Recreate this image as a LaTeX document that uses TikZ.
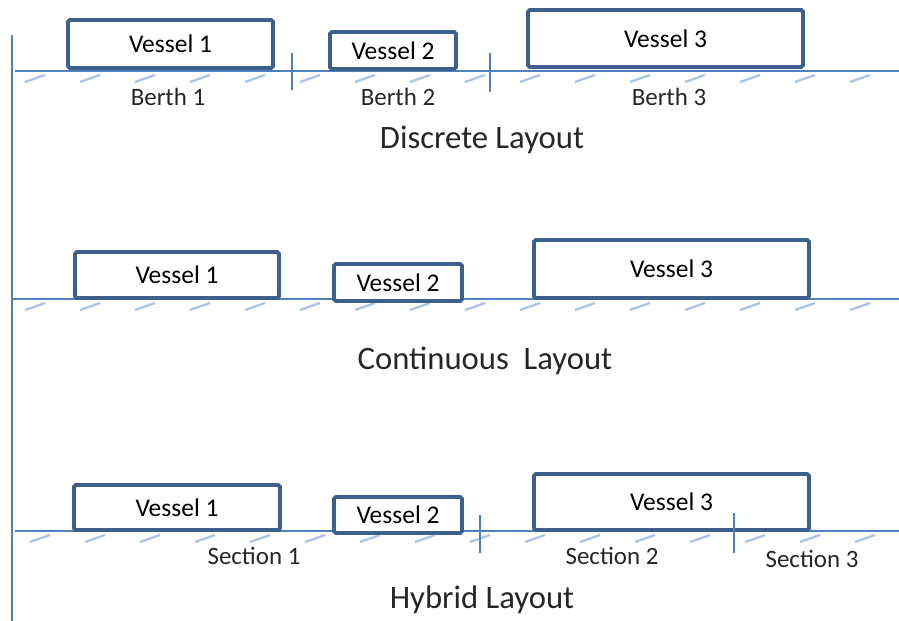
\documentclass[tikz,border=0pt]{standalone}
\usepackage{fontspec}
\setmainfont{Carlito}
\usepackage{tikz}
\usetikzlibrary{positioning}
\definecolor{quayblue}{RGB}{79,129,189}
\definecolor{shipblue}{RGB}{60,95,140}
\definecolor{hatchblue}{RGB}{168,196,232}
\tikzset{
  vessel/.style={draw=shipblue,line width=2.2pt,rounded corners=1pt,fill=white,inner sep=0pt,font=\fontsize{14.5}{16}\selectfont},
  quay/.style={draw=quayblue,line width=1pt},
  hatch/.style={draw=hatchblue,line width=1.3pt},
  lbl/.style={font=\fontsize{14.2}{16}\selectfont,text=black!85},
  title/.style={font=\fontsize{18.6}{21}\selectfont,text=black!85}
}
\begin{document}
\begin{tikzpicture}[x=0.02cm,y=-0.02cm]
  \useasboundingbox (0,0) rectangle (899,621);
  % left edge
  \draw[quay] (12,35) -- (12,621);
  % discrete
  \foreach \x in {25,80,...,880} \draw[hatch] (\x,82) -- ++(20,-7);
  \draw[quay] (15,71) -- (899,71);
  \node[vessel,minimum width=4.1cm,minimum height=0.96cm] (dv1) at (170.5,44) {Vessel 1};
  \node[vessel,minimum width=2.52cm,minimum height=0.74cm] (dv2) at (393,50.5) {Vessel 2};
  \node[vessel,minimum width=5.5cm,minimum height=1.14cm] (dv3) at (665.5,38.5) {Vessel 3};
  \draw[quay] (292,53) -- (292,90);
  \draw[quay] (490,53) -- (490,92);
  \node[lbl] (b1) at (168,97) {Berth 1};
  \node[lbl] (b2) at (398,97) {Berth 2};
  \node[lbl] (b3) at (669,97) {Berth 3};
  \node[title] (dis) at (482,140) {Discrete Layout};
  % continuous
  \foreach \x in {25,80,...,880} \draw[hatch] (\x,310) -- ++(20,-7);
  \draw[quay] (12,299) -- (899,299);
  \node[vessel,minimum width=4.08cm,minimum height=0.92cm] (cv1) at (177,275) {Vessel 1};
  \node[vessel,minimum width=2.56cm,minimum height=0.74cm] (cv2) at (398,282.5) {Vessel 2};
  \node[vessel,minimum width=5.5cm,minimum height=1.16cm] (cv3) at (671.5,269) {Vessel 3};
  \node[title] (con) at (485,361) {Continuous\ \ Layout};
  % hybrid
  \foreach \x in {30,85,...,880} \draw[hatch] (\x,542) -- ++(20,-7);
  \draw[quay] (15,531) -- (899,531);
  \node[vessel,minimum width=4.12cm,minimum height=0.9cm] (hv1) at (177,507.5) {Vessel 1};
  \node[vessel,minimum width=2.56cm,minimum height=0.72cm] (hv2) at (398,515) {Vessel 2};
  \node[vessel,minimum width=5.5cm,minimum height=1.12cm] (hv3) at (671.5,502) {Vessel 3};
  \draw[quay] (480,515) -- (480,553);
  \draw[quay] (734,513) -- (734,553);
  \node[lbl] (s1) at (254,556) {Section 1};
  \node[lbl] (s2) at (612,556) {Section 2};
  \node[lbl] (s3) at (812,559) {Section 3};
  \node[title] (hyb) at (482,600) {Hybrid Layout};
\end{tikzpicture}
\end{document}
